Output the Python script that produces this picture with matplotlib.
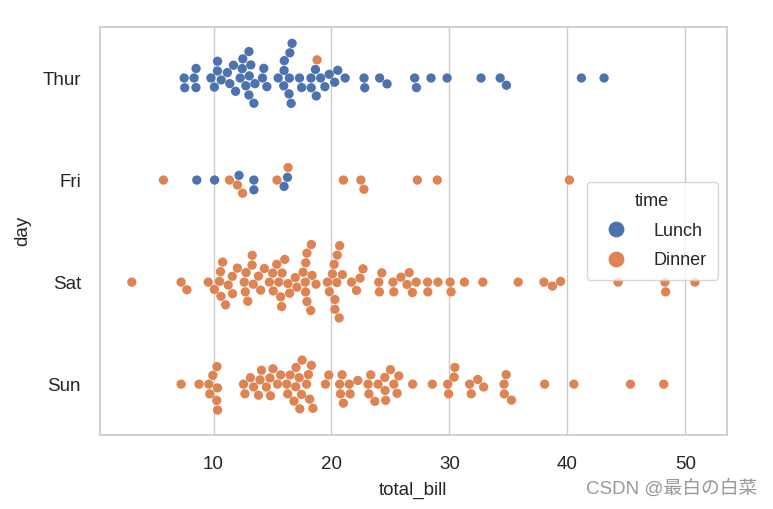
import matplotlib
matplotlib.use("Agg")
import matplotlib.pyplot as plt
import seaborn as sns
import pandas as pd

days = ["Thur", "Fri", "Sat", "Sun"]
times = ["Lunch", "Dinner"]

thur_lunch = [27.20, 22.76, 17.29, 19.44, 16.66, 10.07, 32.68, 15.98, 34.83, 13.03, 18.28, 24.71, 21.16,
              10.65, 12.43, 24.08, 11.69, 13.42, 14.26, 15.95, 12.48, 29.80, 8.52, 14.52, 11.38, 22.82,
              19.08, 20.27, 11.17, 12.26, 18.26, 8.51, 10.33, 14.15, 16.00, 13.16, 17.47, 34.30, 41.19,
              27.05, 16.43, 8.35, 18.64, 11.87, 9.78, 7.51,
              19.81, 28.44, 15.48, 16.58, 7.56, 10.34, 43.11, 13.00, 13.51, 18.71, 12.74, 13.00, 16.40,
              20.53, 16.47]
thur_dinner = [18.78]
fri_dinner = [28.97, 22.49, 5.75, 16.32, 22.75, 40.17, 27.28, 12.03, 21.01, 12.46, 11.35, 15.38]
fri_lunch = [12.16, 13.42, 8.58, 15.98, 13.42, 16.27, 10.09]
sat_dinner = [20.65, 17.92, 20.29, 15.77, 39.42, 19.82, 17.81, 13.37, 12.69, 21.70, 19.65, 9.55, 18.35,
              15.06, 20.69, 17.78, 24.06, 16.31, 16.93, 18.69, 31.27, 16.04,
              38.01, 26.41, 11.24, 48.27, 20.29, 13.81, 11.02, 18.29, 17.59, 20.08, 16.45, 3.07, 20.23,
              15.01, 12.02, 17.07, 26.86, 25.28, 14.73, 10.51, 17.92,
              44.30, 22.42, 20.92, 15.36, 20.49, 25.21, 18.24, 14.31, 14.00, 7.25,
              10.59, 10.63, 50.81, 15.81,
              26.59, 38.73, 24.27, 12.76, 30.06, 25.89, 48.33, 13.27, 28.17, 12.90, 28.15, 11.59, 7.74, 30.14,
              20.45, 13.28, 22.12, 24.01, 15.69, 11.61, 10.77, 15.53, 10.07, 12.60, 32.83, 35.83, 29.03,
              27.18, 22.67, 17.82]
sun_dinner = [16.99, 10.34, 21.01, 23.68, 24.59, 25.29, 8.77, 26.88, 15.04, 14.78, 10.27, 35.26, 15.42,
              18.43, 14.83, 21.58, 10.33, 16.29, 16.97,
              17.46, 13.94, 9.68, 30.40, 18.29, 22.23, 32.40, 28.55, 18.04, 12.54, 10.29, 34.81, 9.94,
              25.56, 19.49,
              38.07, 23.95, 25.71, 17.31, 29.93,
              14.07, 13.13, 17.26, 24.55, 19.77, 29.85, 48.17, 25.00, 13.39, 16.49, 21.50, 12.66, 16.21,
              13.81, 17.51, 24.52, 20.76, 31.71,
              7.25, 31.85, 16.82, 32.90, 17.89, 14.48, 9.60, 34.63, 34.65, 23.33, 45.35, 23.17, 40.55,
              20.69, 20.90, 30.46, 18.15, 23.10, 15.69]

groups = [("Thur", "Lunch", thur_lunch), ("Thur", "Dinner", thur_dinner),
          ("Fri", "Dinner", fri_dinner), ("Fri", "Lunch", fri_lunch),
          ("Sat", "Dinner", sat_dinner), ("Sun", "Dinner", sun_dinner)]
rows = []
for d, t, vals in groups:
    for v in vals:
        rows.append({"total_bill": v, "day": d, "time": t})
df = pd.DataFrame(rows)

sns.set_theme(style="whitegrid")
plt.rcParams['font.family'] = ['Liberation Sans', 'Noto Sans CJK SC', 'DejaVu Sans']

fig = plt.figure(figsize=(7.73, 5.09), dpi=100)
ax = fig.add_axes([0.129, 0.145, 0.811, 0.802])
sns.swarmplot(data=df, x="total_bill", y="day", hue="time", order=days, hue_order=times,
              palette=["#4C72B0", "#DD8452"], size=6.7, ax=ax)
ax.set_xlim(0.35, 53.5)
ax.set_ylim(3.5, -0.5)
ax.tick_params(axis="x", labelsize=13.5, pad=9)
ax.tick_params(axis="y", labelsize=13.5, pad=7.5)
ax.set_xlabel("total_bill", fontsize=13.5, labelpad=6)
ax.set_ylabel("day", fontsize=13.5, labelpad=8)
for s in ax.spines.values():
    s.set_color("#cccccc")
leg = ax.legend(title="time", loc="center right", fontsize=13, title_fontsize=13,
                markerscale=1.7, labelspacing=0.7, handletextpad=1.1, borderpad=0.6,
                bbox_to_anchor=(1.0, 0.5))
fig.text(0.98, 0.022, "CSDN @最白の白菜", ha="right", va="bottom", fontsize=13.5, color="#999999")
fig.savefig("out.png", dpi=100)
